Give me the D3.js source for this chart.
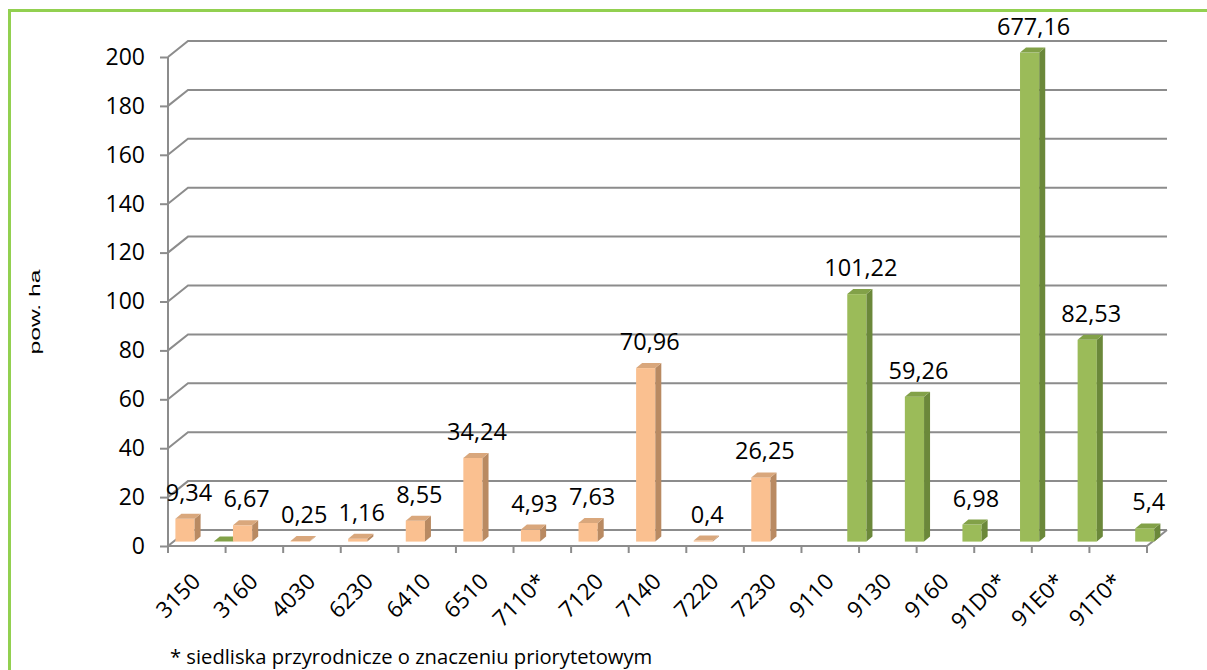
<!DOCTYPE html>
<html>
<head>
<meta charset="utf-8">
<script src="https://cdn.jsdelivr.net/npm/d3@7"></script>
<style>
body {margin:0; background:#fff;}
svg text {font-family: "Open Sans", Lato, sans-serif; fill:#000;}
</style>
</head>
<body>
<svg id="chart"></svg>
<script>

// data
var categories = ["3150","3160","4030","6230","6410","6510","7110*","7120","7140","7220","7230","9110","9130","9160","91D0*","91E0*","91T0*"]
var nonForest = [9.34, 6.67, 0.25, 1.16, 8.55, 34.24, 4.93, 7.63, 70.96, 0.4, 26.25, null, null, null, null, null, null]
var forest = [0, null, null, null, null, null, null, null, null, null, null, 101.22, 59.26, 6.98, 677.16, 82.53, 5.4]
var yTicks = [0, 20, 40, 60, 80, 100, 120, 140, 160, 180, 200]
var seriesNames = ["nonForest", "forest"]
var footnote = "* siedliska przyrodnicze o znaczeniu priorytetowym"
var yTitle = "pow. ha"

var colors = {
    nonForest: {front:"#FAC090", side:"#B98A62", top:"#D9A77C"},
    forest: {front:"#9BBB59", side:"#6B883A", top:"#82A148"}
}

var screen = {width:1207, height:670}
var plot = {left:168, right:1147, top:57, bottom:546}
var depth = {dx:20, dy:-16}      // wall depth
var barOff = {dx:5.4, dy:-4.4}   // bar front plane inside the floor
var barDepth = {dx:6, dy:-5}

var svg = d3.select("#chart")
    .attr("width", screen.width)
    .attr("height", screen.height)

var xScale = d3.scaleBand()
    .domain(categories)
    .range([plot.left, plot.right])

var x1 = d3.scaleBand()
    .domain(seriesNames)
    .range([2, xScale.bandwidth() + 2])
    .paddingInner(0.5)

var yScale = d3.scaleLinear()
    .domain([0, 200])
    .range([plot.bottom, plot.top])

// frame
svg.append("path")
    .attr("d", "M9.5,670 L9.5,10.5 L1207,10.5")
    .attr("fill", "none")
    .attr("stroke", "#92D050")
    .attr("stroke-width", 3)

// back wall grid lines
var grid = svg.append("g")
grid.selectAll("path")
    .data(yTicks)
    .enter()
    .append("path")
    .attr("d", function(t)
{
        var y = yScale(t)
        return "M" + plot.left + "," + y + " L" + (plot.left + depth.dx) + "," + (y + depth.dy) +
            " L" + (plot.right + depth.dx) + "," + (y + depth.dy)
})
    .attr("fill", "none")
    .attr("stroke", "#8C8C8C")
    .attr("stroke-width", 2)

// floor
svg.append("path")
    .attr("d", "M" + plot.left + "," + plot.bottom + " L" + plot.right + "," + plot.bottom +
        " L" + (plot.right + depth.dx) + "," + (plot.bottom + depth.dy))
    .attr("fill", "none")
    .attr("stroke", "#8C8C8C")
    .attr("stroke-width", 2)

// y axis
var yAxis = d3.axisLeft(yScale)
    .tickValues(yTicks)
    .tickSize(8)
    .tickPadding(15)

var yg = svg.append("g")
    .attr("transform", "translate(" + plot.left + ",0)")
    .call(yAxis)
yg.select(".domain").attr("stroke", "#8C8C8C").attr("stroke-width", 2)
    .attr("d", "M0," + plot.top + " V" + (plot.bottom + 7))
yg.selectAll(".tick line").attr("stroke", "#8C8C8C").attr("stroke-width", 2)
yg.selectAll(".tick text")
    .style("font-family", "'Open Sans', Lato, sans-serif")
    .style("font-size", "23px")
    .attr("fill", "#000")

// x ticks at band edges
var edges = categories.map(function(c) { return xScale(c) }).concat([plot.right])
svg.append("g").selectAll("line")
    .data(edges)
    .enter()
    .append("line")
    .attr("x1", function(d) { return d })
    .attr("x2", function(d) { return d })
    .attr("y1", plot.bottom)
    .attr("y2", plot.bottom + 7)
    .attr("stroke", "#8C8C8C")
    .attr("stroke-width", 2)

// x labels
svg.append("g").selectAll("text")
    .data(categories)
    .enter()
    .append("text")
    .text(function(d) { return d })
    .attr("text-anchor", "end")
    .attr("font-size", "22.5px")
    .attr("transform", function(d)
{
        return "translate(" + (xScale(d) + xScale.bandwidth() / 2 + 5) + "," + (plot.bottom + 37) + ") rotate(-45)"
})

// bars
var bars = []
categories.forEach(function(c, i)
{
    if (nonForest[i] !== null) bars.push({cat:c, series:"nonForest", value:nonForest[i]})
    if (forest[i] !== null) bars.push({cat:c, series:"forest", value:forest[i]})
})

var barGeom = function(d)
{
    var x0 = xScale(d.cat) + x1(d.series) + barOff.dx
    var w = x1.bandwidth()
    var yTop = yScale(Math.min(d.value, 200)) + barOff.dy
    var yBot = yScale(0) + barOff.dy
    return {x0:x0, w:w, yTop:yTop, yBot:yBot}
}

var barG = svg.append("g").selectAll("g")
    .data(bars)
    .enter()
    .append("g")

barG.append("rect")
    .attr("x", function(d) { return barGeom(d).x0 })
    .attr("y", function(d) { return barGeom(d).yTop })
    .attr("width", function(d) { return barGeom(d).w })
    .attr("height", function(d) { var g = barGeom(d); return g.yBot - g.yTop })
    .attr("fill", function(d) { return colors[d.series].front })

barG.append("path")
    .attr("d", function(d)
{
        var g = barGeom(d)
        var xr = g.x0 + g.w
        return "M" + xr + "," + g.yBot + " L" + (xr + barDepth.dx) + "," + (g.yBot + barDepth.dy) +
            " L" + (xr + barDepth.dx) + "," + (g.yTop + barDepth.dy) + " L" + xr + "," + g.yTop + "Z"
})
    .attr("fill", function(d) { return colors[d.series].side })

barG.append("path")
    .attr("d", function(d)
{
        var g = barGeom(d)
        return "M" + g.x0 + "," + g.yTop + " L" + (g.x0 + barDepth.dx) + "," + (g.yTop + barDepth.dy) +
            " L" + (g.x0 + g.w + barDepth.dx) + "," + (g.yTop + barDepth.dy) + " L" + (g.x0 + g.w) + "," + g.yTop + "Z"
})
    .attr("fill", function(d) { return colors[d.series].top })

// data labels
svg.append("g").selectAll("text")
    .data(bars.filter(function(d) { return d.value > 0 }))
    .enter()
    .append("text")
    .text(function(d) { return String(d.value).replace(".", ",") })
    .attr("text-anchor", "middle")
    .attr("font-size", "23.5px")
    .attr("x", function(d) { var g = barGeom(d); return g.x0 + g.w / 2 + 4 })
    .attr("y", function(d) { return barGeom(d).yTop - 18 })

// titles
svg.append("text")
    .text(yTitle)
    .attr("text-anchor", "middle")
    .attr("font-size", "15px")
    .style("font-family", "'Liberation Sans', Arial, sans-serif")
    .attr("textLength", 85)
    .attr("lengthAdjust", "spacingAndGlyphs")
    .attr("transform", "translate(40,312) rotate(-90)")

svg.append("text")
    .text(footnote)
    .attr("x", 170)
    .attr("y", 664)
    .attr("font-size", "20.2px")

</script>
</body>
</html>
